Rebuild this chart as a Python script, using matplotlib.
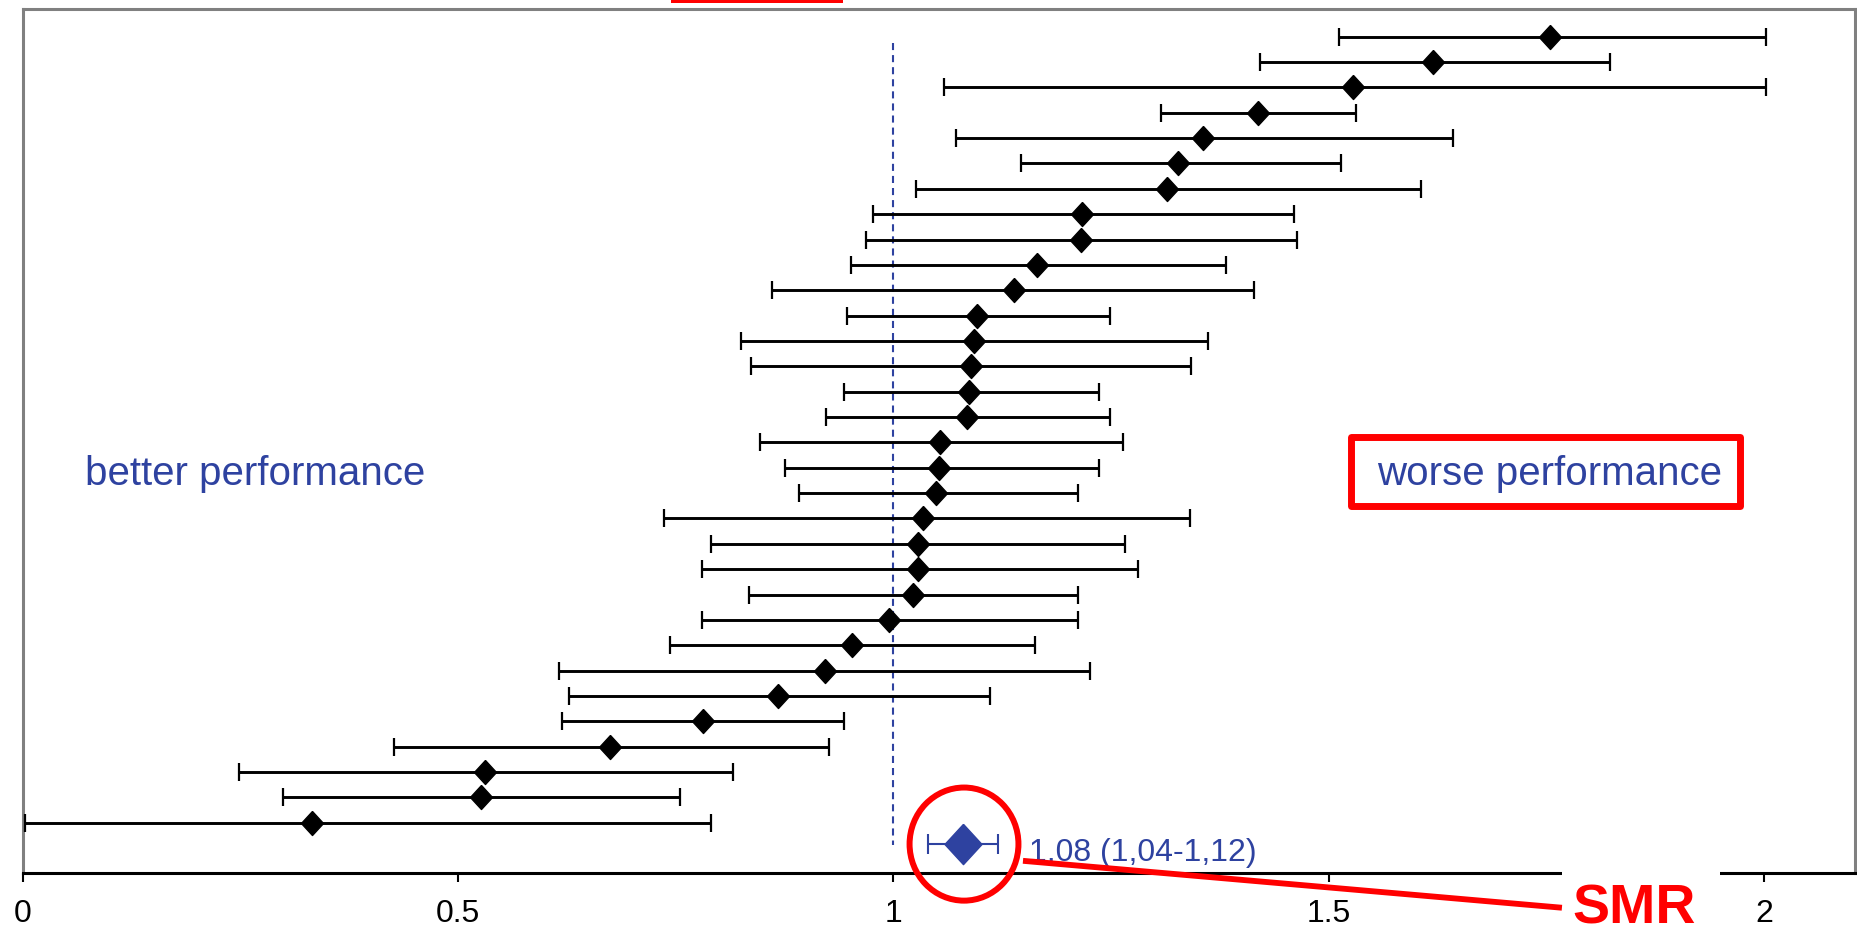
import numpy as np
import matplotlib
matplotlib.use('Agg')
import matplotlib.pyplot as plt
from matplotlib.patches import Ellipse, Rectangle

plt.rcParams['font.family'] = ['Liberation Sans', 'DejaVu Sans']

# ratio per unit (top row first), with 95% interval
est = [1.754, 1.619, 1.528, 1.418, 1.355, 1.327, 1.314, 1.216, 1.215, 1.165, 1.138,
       1.096, 1.092, 1.089, 1.087, 1.085, 1.054, 1.052, 1.049, 1.034, 1.028, 1.028,
       1.023, 0.995, 0.952, 0.921, 0.868, 0.781, 0.674, 0.531, 0.526, 0.332]
lo = [1.511, 1.421, 1.058, 1.307, 1.072, 1.146, 1.026, 0.977, 0.969, 0.951, 0.861,
      0.947, 0.825, 0.837, 0.943, 0.922, 0.847, 0.876, 0.891, 0.737, 0.790, 0.780,
      0.834, 0.780, 0.744, 0.616, 0.627, 0.619, 0.427, 0.249, 0.299, 0.003]
hi = [2.002, 1.823, 2.002, 1.531, 1.642, 1.514, 1.606, 1.460, 1.463, 1.382, 1.414,
      1.249, 1.361, 1.342, 1.236, 1.249, 1.264, 1.236, 1.212, 1.340, 1.266, 1.281,
      1.212, 1.212, 1.163, 1.226, 1.111, 0.943, 0.926, 0.816, 0.755, 0.790]

smr_est = 1.08
smr_lo = 1.04
smr_hi = 1.12
smr_label = '1,08 (1,04-1,12)'

xticks = [0, 0.5, 1, 1.5, 2]
xticklabels = ['0', '0.5', '1', '1.5', '2']

blue = '#2E42A0'
red = '#FF0000'

est = np.array(est)
lo = np.array(lo)
hi = np.array(hi)
rows = np.arange(1, len(est) + 1)
smr_row = 32.85

fig = plt.figure(figsize=(18.58, 9.36), dpi=100)
ax = fig.add_axes([0.01211, 0.06731, 0.98628, 0.92307])

diamond = [(0, 1), (0.92, 0), (0, -1), (-0.92, 0), (0, 1)]

ax.errorbar(est, rows, xerr=[est - lo, hi - est], fmt='none', ecolor='black',
            elinewidth=2.1, capsize=6.6, capthick=1.6, zorder=3)
ax.plot(est, rows, linestyle='none', marker=diamond, markersize=17.3,
        color='black', zorder=4)

# reference line
ax.plot([1, 1], [1.24, 32.88], color=blue, linewidth=1.5, dashes=(3.4, 2.4), zorder=2)

# pooled SMR
ax.errorbar([smr_est], [smr_row], xerr=[[smr_est - smr_lo], [smr_hi - smr_est]],
            fmt='none', ecolor=blue, elinewidth=1.5, capsize=7, capthick=1.5, zorder=3)
ax.plot([smr_est], [smr_row], linestyle='none', marker=diamond, markersize=29,
        color=blue, zorder=4)
ax.text(1.1556, 33.5, smr_label, color=blue, fontsize=23, va='baseline', ha='left')

ax.text(0.0718, 18.68, 'better performance', color=blue, fontsize=29,
        va='baseline', ha='left')
ax.text(1.555, 18.68, 'worse performance', color=blue, fontsize=29,
        va='baseline', ha='left')

# red annotations
ax.add_patch(Rectangle((1.5258, 16.805), 0.4466, 2.722, fill=False, edgecolor=red,
                       linewidth=5, joinstyle='round', clip_on=False, zorder=5))
ax.add_patch(Ellipse((1.081, 32.84), 0.125, 4.46, fill=False, edgecolor=red,
                     linewidth=4.3, clip_on=False, zorder=5))
ax.plot([1.1487, 1.7675], [33.5, 35.35], color=red, linewidth=4.2,
        solid_capstyle='butt', clip_on=False, zorder=5)
ax.add_patch(Rectangle((1.7675, 33.55), 0.182, 2.95, facecolor='white',
                       edgecolor='none', clip_on=False, zorder=4))
ax.text(1.7800, 36.44, 'SMR', color=red, fontsize=40, fontweight='bold',
        va='bottom', ha='left', clip_on=False, zorder=6)
fig.add_artist(Rectangle((671 / 1858, 1 - 2.5 / 936), 172 / 1858, 3 / 936,
                         transform=fig.transFigure, facecolor=red, edgecolor='none'))

ax.set_xlim(0, 2.104)
ax.set_ylim(33.98, -0.09)
ax.set_xticks(xticks)
ax.set_xticklabels(xticklabels)
ax.set_yticks([])
ax.tick_params(axis='x', direction='out', length=6.5, width=1.5, labelsize=23, pad=12.5)

for side in ['top', 'left', 'right']:
    ax.spines[side].set_color('#808080')
    ax.spines[side].set_linewidth(2.2)
ax.spines['bottom'].set_color('black')
ax.spines['bottom'].set_linewidth(2.2)

fig.savefig('out.png', dpi=100)
